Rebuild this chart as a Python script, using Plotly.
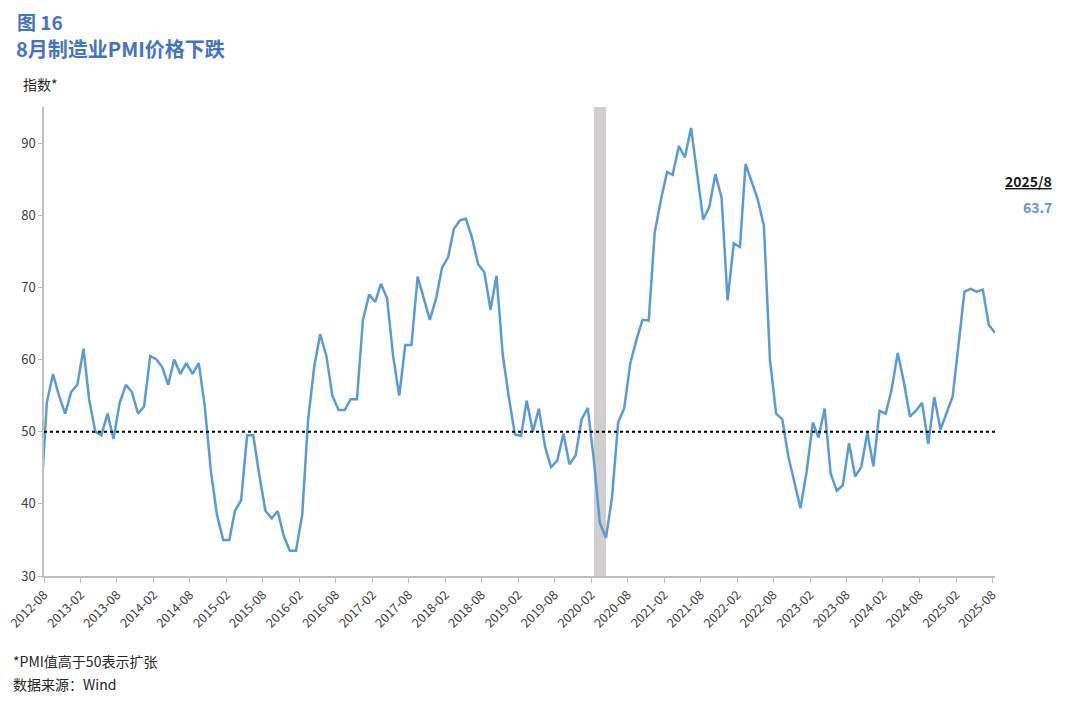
import pandas as pd
import plotly.graph_objects as go

# ---- data ----
start_month = "2012-07"
values = [
    39.5, 54.0, 58.0, 55.0, 52.5, 55.5,                                  # 2012-07..12
    56.5, 61.5, 54.5, 50.0, 49.5, 52.5, 49.0, 54.0, 56.5, 55.5, 52.5, 53.5,  # 2013
    60.5, 60.0, 59.0, 56.5, 60.0, 58.0, 59.5, 58.0, 59.5, 53.5, 44.5, 38.5,  # 2014
    35.0, 35.0, 39.0, 40.5, 49.5, 49.5, 44.0, 39.0, 38.0, 39.0, 35.5, 33.5,  # 2015
    33.5, 38.5, 51.5, 59.0, 63.5, 60.5, 55.0, 53.0, 53.0, 54.5, 54.5, 65.5,  # 2016
    69.0, 68.0, 70.5, 68.5, 60.5, 55.0, 62.0, 62.0, 71.5, 68.5, 65.5, 68.3,  # 2017
    72.7, 74.2, 78.1, 79.3, 79.5, 76.8, 73.2, 72.1, 66.9, 71.6, 60.7, 54.9,  # 2018
    49.6, 49.4, 54.3, 50.0, 53.2, 47.9, 45.1, 46.0, 49.7, 45.5, 46.7, 51.7,  # 2019
    53.3, 45.9, 37.4, 35.3, 40.8, 51.3, 53.2, 59.5, 62.8, 65.5, 65.4, 77.6,  # 2020
    82.1, 86.0, 85.6, 89.6, 88.0, 92.1, 85.7, 79.4, 81.2, 85.7, 82.4, 68.2,  # 2021
    76.1, 75.6, 87.1, 84.6, 82.2, 78.5, 60.0, 52.5, 51.7, 46.6, 43.0, 39.4,  # 2022
    44.5, 51.3, 49.2, 53.2, 44.2, 41.8, 42.6, 48.4, 43.8, 45.1, 49.9, 45.2,  # 2023
    52.9, 52.5, 55.8, 60.9, 57.0, 52.1, 52.9, 54.0, 48.3, 54.8, 50.3, 52.5,  # 2024
    54.9, 62.4, 69.4, 69.8, 69.4, 69.7, 64.8, 63.7,                          # 2025
]
months = pd.period_range(start_month, periods=len(values), freq="M")
tick_labels = [str(p) for p in pd.period_range("2012-08", "2025-08", freq="6M")]
y_ticks = [30, 40, 50, 60, 70, 80, 90]
threshold = 50
shade_months = ["2020-02", "2020-04"]
last_label = "2025/8"
last_value = values[-1]

# ---- styling ----
BLUE_LINE = "#5B9BD5"
TITLE_BLUE = "#4472C4"
GREY = "#BFBFBF"
TXT = "#404040"
FONT = "Noto Sans CJK SC"
MID = pd.Timedelta(days=14)

x_dates = [p.to_timestamp() + MID for p in months]
tick_vals = [pd.Period(t, "M").to_timestamp() for t in tick_labels]

W, H = 1080, 706
L, T = 44, 107
R = W - 995
B = H - 576
pw, ph = W - L - R, H - T - B


def px(x):
    return (x - L) / pw


def py(y):
    return (H - B - y) / ph


fig = go.Figure()
fig.add_trace(go.Scatter(x=x_dates, y=values, mode="lines",
                         line=dict(color=BLUE_LINE, width=2.5),
                         hoverinfo="x+y", showlegend=False))

fig.add_shape(type="rect", xref="x", yref="y domain",
              x0=pd.Period(shade_months[0], "M").to_timestamp() + MID,
              x1=pd.Period(shade_months[1], "M").to_timestamp() + MID,
              y0=0, y1=1, fillcolor="#D0CECE", line=dict(width=0), layer="below")
fig.add_shape(type="line", xref="x domain", yref="y", x0=0, x1=1,
              y0=threshold, y1=threshold, line=dict(color="black", width=2, dash="dot"))

fig.update_xaxes(type="date", automargin=False, ticklabeloverflow="allow",
                 range=[tick_vals[0], pd.Period("2025-08", "M").to_timestamp() + MID],
                 tickvals=tick_vals, ticktext=tick_labels, tickangle=-45,
                 ticks="outside", ticklen=5, tickcolor=GREY,
                 showline=True, linecolor=GREY, linewidth=1.5,
                 showgrid=False, zeroline=False,
                 tickfont=dict(family=FONT, size=12.5, color=TXT))
fig.update_yaxes(range=[30, 95], tickvals=y_ticks, automargin=False,
                 ticks="outside", ticklen=4, tickcolor=GREY,
                 showline=True, linecolor=GREY, linewidth=1.5,
                 showgrid=False, zeroline=False,
                 tickfont=dict(family=FONT, size=13, color=TXT))

ann = [
    dict(text="<b>图 16</b>", x=px(15), y=py(22), size=19, color=TITLE_BLUE, anchor="left"),
    dict(text="<b>8月制造业PMI价格下跌</b>", x=px(14), y=py(48), size=20, color=TITLE_BLUE, anchor="left"),
    dict(text="指数*", x=px(21), y=py(84), size=14, color="#262626", anchor="left"),
    dict(text="<b><u>" + last_label + "</u></b>", x=px(1054), y=py(181), size=14, color="#1a1a1a", anchor="right"),
    dict(text=f"<b>{last_value:.1f}</b>", x=px(1054), y=py(207), size=14, color=BLUE_LINE, anchor="right"),
    dict(text="*PMI值高于50表示扩张", x=px(11), y=py(661), size=14, color="#262626", anchor="left"),
    dict(text="数据来源：Wind", x=px(11), y=py(684), size=14, color="#262626", anchor="left"),
]
for a in ann:
    fig.add_annotation(text=a["text"], xref="paper", yref="paper", x=a["x"], y=a["y"],
                       xanchor=a["anchor"], yanchor="middle", showarrow=False,
                       font=dict(family=FONT, size=a["size"], color=a["color"]))

fig.update_layout(width=W, height=H, margin=dict(l=L, r=R, t=T, b=B),
                  paper_bgcolor="white", plot_bgcolor="white",
                  font=dict(family=FONT))

fig.write_html("out.html", config={"displayModeBar": False},
               post_script="document.body.style.margin='0';document.body.style.overflow='hidden';")
